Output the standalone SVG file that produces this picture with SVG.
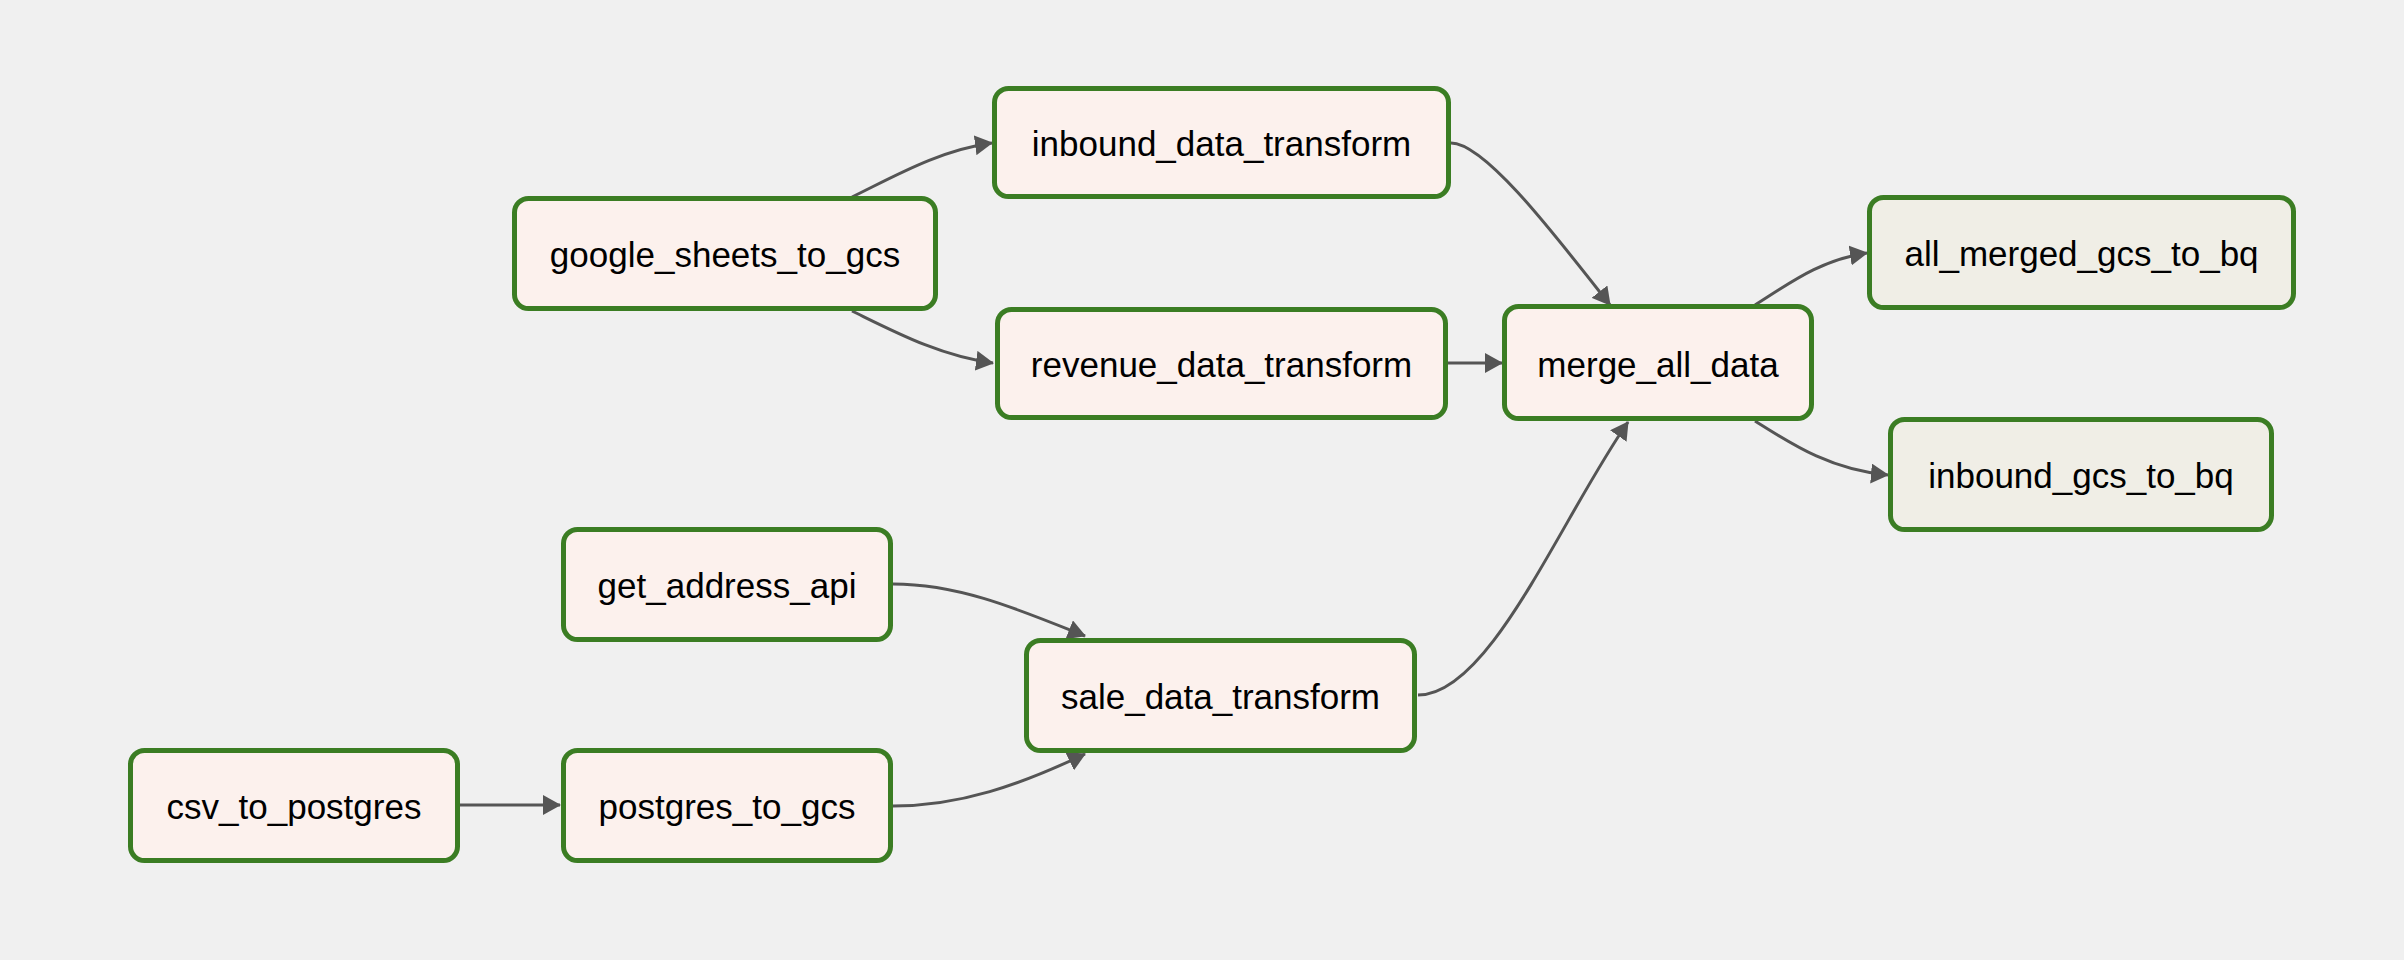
<svg xmlns="http://www.w3.org/2000/svg" width="2404" height="960" viewBox="0 0 2404 960">
<style>
.node rect{fill:#fcf1ed;stroke:#3b7d23;stroke-width:5}
.node.bq rect{fill:#f0eee6}
.node text{font-family:"Liberation Sans",Arial,Helvetica,sans-serif;font-size:35px;fill:#000;text-anchor:middle}
.edge{fill:none;stroke:#555;stroke-width:3;marker-end:url(#arrow)}
</style>
<defs>
<marker id="arrow" markerUnits="userSpaceOnUse" markerWidth="18" markerHeight="20" viewBox="0 0 18 20" refX="17" refY="10" orient="auto">
<path d="M0,0 L18,10 L0,20 z" fill="#555"/>
</marker>
</defs>
<rect width="2404" height="960" fill="#f0f0f0"/>
<g id="connectors">
<path class="edge" d="M852,197 C895,176 940,150 992,143"/>
<path class="edge" d="M852,311 C895,332 940,356 993,363"/>
<path class="edge" d="M1451,143 C1485,143 1555,235 1610,305"/>
<path class="edge" d="M1448,363 L1502,363"/>
<path class="edge" d="M1755,305 C1790,283 1820,260 1867,253"/>
<path class="edge" d="M1755,421 C1790,443 1830,470 1888,475"/>
<path class="edge" d="M893,584 C960,584 1020,610 1085,636"/>
<path class="edge" d="M893,806 C960,806 1020,785 1085,754"/>
<path class="edge" d="M460,805 L560,805"/>
<path class="edge" d="M1418,695 C1490,695 1560,520 1628,422"/>
</g>
<g id="google_sheets_to_gcs" class="node"><rect x="514.5" y="198.5" width="421" height="110" rx="14"/><text x="725" y="267">google_sheets_to_gcs</text></g>
<g id="inbound_data_transform" class="node"><rect x="994.5" y="88.5" width="454" height="108" rx="14"/><text x="1221.5" y="156">inbound_data_transform</text></g>
<g id="revenue_data_transform" class="node"><rect x="997.5" y="309.5" width="448" height="108" rx="14"/><text x="1221.5" y="377">revenue_data_transform</text></g>
<g id="merge_all_data" class="node"><rect x="1504.5" y="306.5" width="307" height="112" rx="14"/><text x="1658" y="377">merge_all_data</text></g>
<g id="all_merged_gcs_to_bq" class="node bq"><rect x="1869.5" y="197.5" width="424" height="110" rx="14"/><text x="2081.5" y="266">all_merged_gcs_to_bq</text></g>
<g id="inbound_gcs_to_bq" class="node bq"><rect x="1890.5" y="419.5" width="381" height="110" rx="14"/><text x="2081" y="488">inbound_gcs_to_bq</text></g>
<g id="get_address_api" class="node"><rect x="563.5" y="529.5" width="327" height="110" rx="14"/><text x="727" y="598">get_address_api</text></g>
<g id="csv_to_postgres" class="node"><rect x="130.5" y="750.5" width="327" height="110" rx="14"/><text x="294" y="819">csv_to_postgres</text></g>
<g id="postgres_to_gcs" class="node"><rect x="563.5" y="750.5" width="327" height="110" rx="14"/><text x="727" y="819">postgres_to_gcs</text></g>
<g id="sale_data_transform" class="node"><rect x="1026.5" y="640.5" width="388" height="110" rx="14"/><text x="1220.5" y="709">sale_data_transform</text></g>
</svg>
